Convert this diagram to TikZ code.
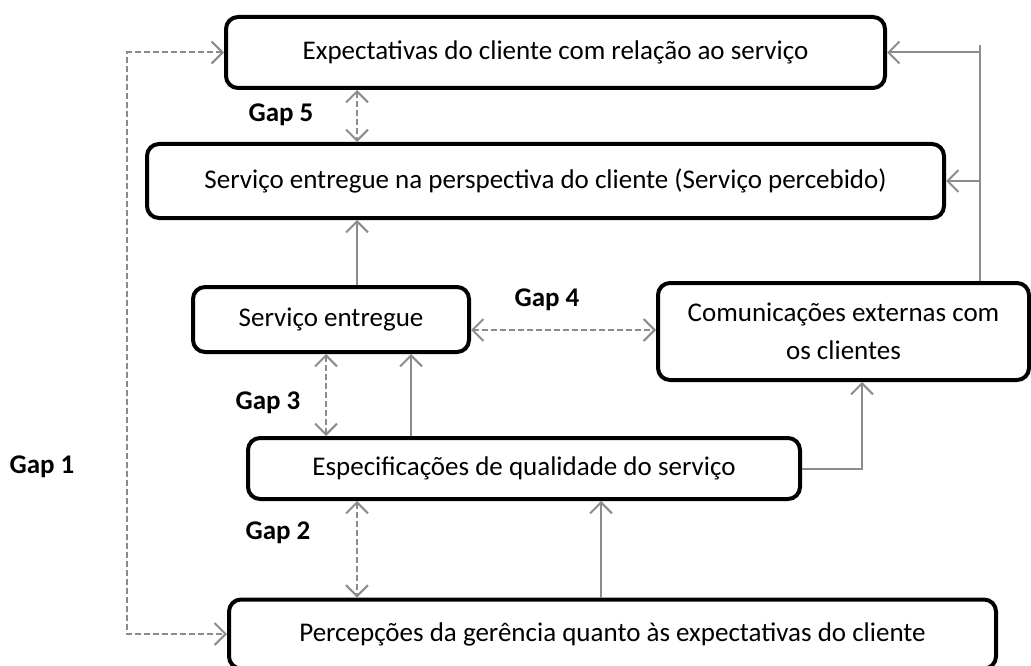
\documentclass[tikz,border=0pt]{standalone}
\usepackage{fontspec}
\setmainfont{Carlito}
\usetikzlibrary{arrows.meta}

\begin{document}
\begin{tikzpicture}[x=1pt, y=-1pt,
    font=\fontsize{27}{38}\selectfont,
    >={Straight Barb[length=11pt,width=22pt]},
    box/.style={draw, line width=4pt, rounded corners=12pt, inner sep=0pt, align=center},
    flow/.style={draw=black!45, line width=2pt, ->},
    gapline/.style={draw=black!45, line width=2pt, <->, dash pattern=on 6pt off 3pt},
    gaplabel/.style={font=\fontsize{27}{32}\selectfont\bfseries}]
    \useasboundingbox (0,0) rectangle (1031,666);

    %% boxes
    \node[box, minimum width=659pt, minimum height=71pt] (expect) at (555.5,52.5)
        {Expectativas do cliente com relação ao serviço};
    \node[box, minimum width=797pt, minimum height=74pt] (perceived) at (545.5,181)
        {Serviço entregue na perspectiva do cliente (Serviço percebido)};
    \node[box, minimum width=276pt, minimum height=65pt] (served) at (331,319.5)
        {Serviço entregue};
    \node[box, minimum width=371pt, minimum height=97pt] (comm) at (843.5,331.5)
        {Comunicações externas com\\os clientes};
    \node[box, minimum width=552pt, minimum height=61pt] (spec) at (524,468.5)
        {Especificações de qualidade do serviço};
    \node[box, minimum width=767pt, minimum height=69pt] (percep) at (612.5,634)
        {Percepções da gerência quanto às expectativas do cliente};

    %% gap labels
    \foreach \n/\p in {1/{(42,467)}, 2/{(278,533)}, 3/{(268,403)}, 4/{(547,300)}, 5/{(281,115)}} {
      \node[gaplabel] (gap\n) at \p {Gap \n}; }

    %% columns and rows used by the connectors
    \coordinate (colA) at (357,0);
    \coordinate (colB) at (326,0);
    \coordinate (colC) at (411,0);
    \coordinate (colD) at (601,0);
    \coordinate (colE) at (862,0);
    \coordinate (colF) at (980,0);
    \coordinate (colG) at (127,0);
    \coordinate (rowA) at (0,330);
    \coordinate (rowB) at (0,45);

    %% solid flows
    \draw[flow] (served.north -| colA) -- (perceived.south -| colA);
    \draw[flow] (spec.north -| colC) -- (served.south -| colC);
    \draw[flow] (percep.north -| colD) -- (spec.south -| colD);
    \draw[flow] (spec.east) -| (comm.south -| colE);
    \draw[draw=black!45, line width=2pt] (comm.north -| colF) -- (colF |- rowB);
    \draw[flow] (colF |- expect.east) -- (expect.east);
    \draw[flow] (colF |- perceived.east) -- (perceived.east);

    %% gaps
    \draw[gapline] (expect.south -| colA) -- (perceived.north -| colA);
    \draw[gapline] (served.east |- rowA) -- (comm.west |- rowA);
    \draw[gapline] (served.south -| colB) -- (spec.north -| colB);
    \draw[gapline] (spec.south -| colA) -- (percep.north -| colA);
    \draw[gapline] (expect.west) -| (colG |- gap1.north) -- (colG |- percep.west) -- (percep.west);

\end{tikzpicture}
\end{document}
